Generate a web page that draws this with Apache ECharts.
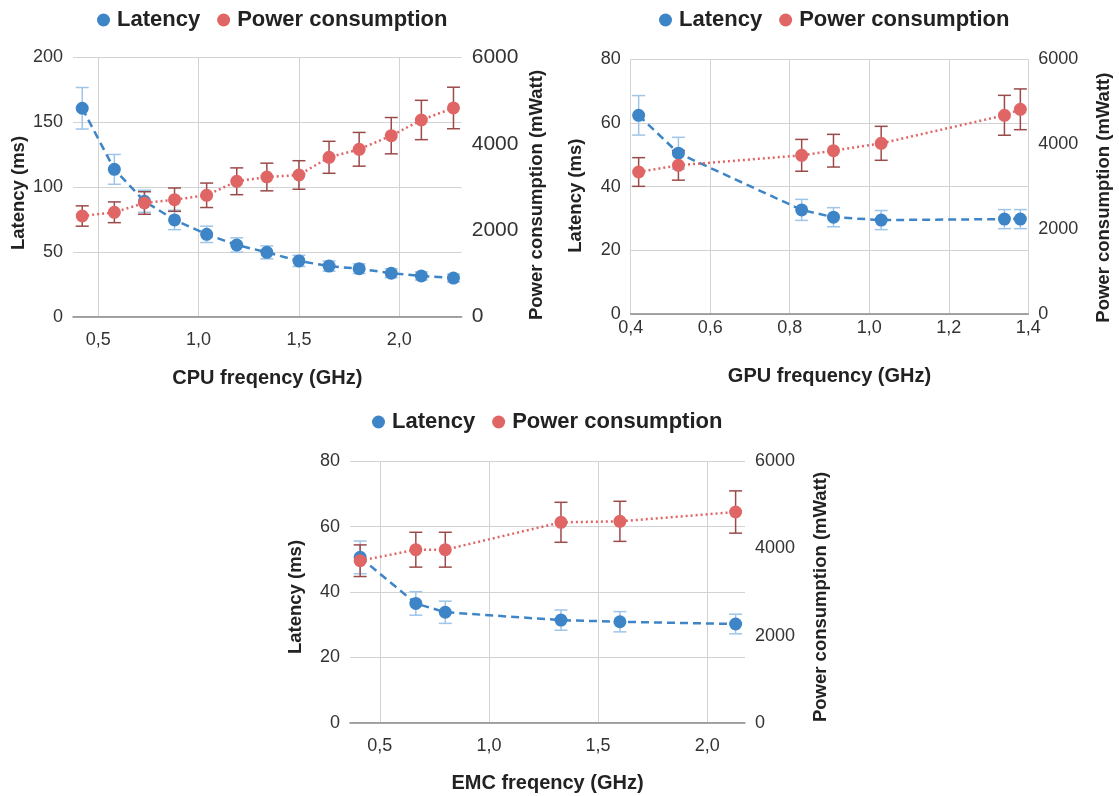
<!DOCTYPE html>
<html><head><meta charset="utf-8">
<script src="https://cdn.jsdelivr.net/npm/echarts@6/dist/echarts.min.js"></script>
<style>html,body{margin:0;padding:0;background:#fff}#c{width:1119px;height:796px}</style>
</head><body><div id="c"></div>
<script>
// ---- Panel 1: CPU ----
const cpuFreq    = [0.42, 0.58, 0.73, 0.88, 1.04, 1.19, 1.34, 1.50, 1.65, 1.80, 1.96, 2.11, 2.27];
const cpuLatency = [160.7, 113.6, 89, 74.6, 63.5, 55.3, 49.6, 43, 39, 37, 33.5, 31.4, 29.8];
const cpuLatErr  = [16, 11.5, 8.5, 7.5, 6.3, 5.5, 5, 4.3, 3.9, 3.7, 3.4, 3.1, 3];
const cpuPower   = [2329, 2415, 2630, 2707, 2808, 3132, 3231, 3278, 3687, 3872, 4187, 4550, 4828];
const cpuPowErr  = [235, 240, 260, 270, 283, 310, 320, 330, 370, 390, 420, 455, 480];
// ---- Panel 2: GPU ----
const gpuFreq    = [0.42, 0.52, 0.83, 0.91, 1.03, 1.34, 1.38];
const gpuLatency = [62.4, 50.5, 32.7, 30.4, 29.5, 29.8, 29.8];
const gpuLatErr  = [6.2, 5, 3.3, 3, 3, 3, 3];
const gpuPower   = [3345, 3503, 3738, 3847, 4021, 4681, 4822];
const gpuPowErr  = [338, 350, 375, 385, 400, 470, 480];
// ---- Panel 3: EMC ----
const emcFreq    = [0.41, 0.665, 0.80, 1.33, 1.60, 2.13];
const emcLatency = [50.6, 36.5, 33.8, 31.4, 30.9, 30.2];
const emcLatErr  = [5, 3.6, 3.4, 3.1, 3.1, 3];
const emcPower   = [3718, 3971, 3971, 4600, 4622, 4836];
const emcPowErr  = [363, 400, 400, 459, 460, 485];
// ---- labels / ticks ----
const seriesNames = ['Latency', 'Power consumption'];
const xTitles = ['CPU freqency (GHz)', 'GPU frequency (GHz)', 'EMC freqency (GHz)'];
const yLeftTitle = 'Latency (ms)';
const yRightTitle = 'Power consumption (mWatt)';
const halfGHzTicks = [0.5, 1.0, 1.5, 2.0];

const FONT = '"Liberation Sans", Arial, sans-serif';
const BLUE = '#3d85c6', RED = '#e06666', BLUE_ERR = '#9fc5e8', RED_ERR = '#9b4a4a';
const GRID_C = '#d3d3d3';

const panels = [
  {x: cpuFreq, lat: cpuLatency, latE: cpuLatErr, pow: cpuPower, powE: cpuPowErr,
   grid: {left: 73, top: 57.3, width: 388.7, height: 259.4},
   xMin: 0.374, xMax: 2.311, xCustom: halfGHzTicks, yMax: 200, yInt: 50,
   labMargin: 14, nameGap: 52, legendLeft: 97, legendTop: 9, titleShiftL: 12, titleShiftR: 16, rFont: 21},
  {x: gpuFreq, lat: gpuLatency, latE: gpuLatErr, pow: gpuPower, powE: gpuPowErr,
   grid: {left: 630.7, top: 59.3, width: 397.6, height: 254.7},
   xMin: 0.4, xMax: 1.4, xInt: 0.2, yMax: 80, yInt: 20,
   labMargin: 5, nameGap: 52, legendLeft: 659, legendTop: 9, titleShiftL: 18, titleShiftR: 22, rFont: 18},
  {x: emcFreq, lat: emcLatency, latE: emcLatErr, pow: emcPower, powE: emcPowErr,
   grid: {left: 350, top: 461.3, width: 395, height: 261.4},
   xMin: 0.3635, xMax: 2.173, xCustom: halfGHzTicks, yMax: 80, yInt: 20,
   labMargin: 14, nameGap: 51, legendLeft: 372, legendTop: 411, titleShiftL: 10, titleShiftR: 10, rFont: 18}
];

function errRender(color, cap) {
  return function (params, api) {
    const x = api.value(0), lo = api.value(1), hi = api.value(2);
    const p1 = api.coord([x, hi]), p2 = api.coord([x, lo]);
    const s = {stroke: color, lineWidth: 1.5};
    return {type: 'group', children: [
      {type: 'line', shape: {x1: p1[0], y1: p1[1], x2: p2[0], y2: p2[1]}, style: s},
      {type: 'line', shape: {x1: p1[0] - cap, y1: p1[1], x2: p1[0] + cap, y2: p1[1]}, style: s},
      {type: 'line', shape: {x1: p2[0] - cap, y1: p2[1], x2: p2[0] + cap, y2: p2[1]}, style: s}
    ]};
  };
}
const fmt = v => v.toFixed(1).replace('.', ',');
const plain = v => String(Math.round(v));

const option = {
  backgroundColor: '#fff', animation: false,
  textStyle: {fontFamily: FONT},
  grid: [], xAxis: [], yAxis: [], legend: [], series: []
};

panels.forEach((p, i) => {
  option.grid.push(Object.assign({containLabel: false}, p.grid));
  const xa = {
    gridIndex: i, type: 'value', min: p.xMin, max: p.xMax,
    axisLine: {show: true, lineStyle: {color: '#8a8a8a', width: 1.5}},
    axisTick: {show: false},
    axisLabel: {fontSize: 18, color: '#333', margin: p.labMargin, formatter: fmt, fontFamily: FONT},
    splitLine: {show: true, lineStyle: {color: GRID_C, width: 1}},
    name: xTitles[i], nameLocation: 'middle', nameGap: p.nameGap,
    nameTextStyle: {fontSize: 20, fontWeight: 'bold', color: '#222', fontFamily: FONT}
  };
  if (p.xCustom) {
    xa.axisLabel.customValues = p.xCustom;
    xa.axisTick.customValues = p.xCustom;
  } else {
    xa.interval = p.xInt;
  }
  option.xAxis.push(xa);
  option.yAxis.push({
    gridIndex: i, type: 'value', position: 'left', min: 0, max: p.yMax, interval: p.yInt,
    axisLine: {show: false}, axisTick: {show: false},
    axisLabel: {fontSize: 18, color: '#333', margin: 10, fontFamily: FONT, formatter: plain},
    splitLine: {show: true, lineStyle: {color: GRID_C, width: 1}},
    name: yLeftTitle, nameLocation: 'middle', nameRotate: 90, nameGap: 45,
    nameTextStyle: {fontSize: 18.5, fontWeight: 'bold', color: '#222', fontFamily: FONT,
                    padding: [0, p.titleShiftL, 0, 0]}
  });
  option.yAxis.push({
    gridIndex: i, type: 'value', position: 'right', min: 0, max: 6000, interval: 2000,
    axisLine: {show: false}, axisTick: {show: false},
    axisLabel: {fontSize: p.rFont, color: '#333', margin: 10, fontFamily: FONT, formatter: plain},
    splitLine: {show: false},
    name: yRightTitle, nameLocation: 'middle', nameRotate: 90, nameGap: 66,
    nameTextStyle: {fontSize: 18.5, fontWeight: 'bold', color: '#222', fontFamily: FONT,
                    padding: [0, p.titleShiftR, 0, 0]}
  });
  option.legend.push({
    left: p.legendLeft, top: p.legendTop, padding: 0, itemGap: 17,
    itemWidth: 13, itemHeight: 13, icon: 'circle',
    data: seriesNames,
    textStyle: {fontSize: 22, fontWeight: 'bold', color: '#222', fontFamily: FONT, padding: [0, 0, 0, 2]}
  });
  const yL = 2 * i, yR = 2 * i + 1;
  option.series.push({
    type: 'custom', name: 'latErr' + i, xAxisIndex: i, yAxisIndex: yL, z: 1,
    renderItem: errRender(BLUE_ERR, 6.5), silent: true,
    data: p.x.map((x, k) => [x, p.lat[k] - p.latE[k], p.lat[k] + p.latE[k]])
  });
  option.series.push({
    type: 'custom', name: 'powErr' + i, xAxisIndex: i, yAxisIndex: yR, z: 1,
    renderItem: errRender(RED_ERR, 6.5), silent: true,
    data: p.x.map((x, k) => [x, p.pow[k] - p.powE[k], p.pow[k] + p.powE[k]])
  });
  option.series.push({
    type: 'line', name: seriesNames[0], xAxisIndex: i, yAxisIndex: yL, z: 3,
    data: p.x.map((x, k) => [x, p.lat[k]]),
    symbol: 'circle', symbolSize: 13, color: BLUE,
    itemStyle: {color: BLUE}, lineStyle: {color: BLUE, width: 2.5, type: [8, 5]}
  });
  option.series.push({
    type: 'line', name: seriesNames[1], xAxisIndex: i, yAxisIndex: yR, z: 4,
    data: p.x.map((x, k) => [x, p.pow[k]]),
    symbol: 'circle', symbolSize: 13, color: RED,
    itemStyle: {color: RED}, lineStyle: {color: RED, width: 2.5, type: [2, 3]}
  });
});

const chart = echarts.init(document.getElementById('c'), null, {renderer: 'canvas'});
chart.setOption(option);
</script>
</body></html>
